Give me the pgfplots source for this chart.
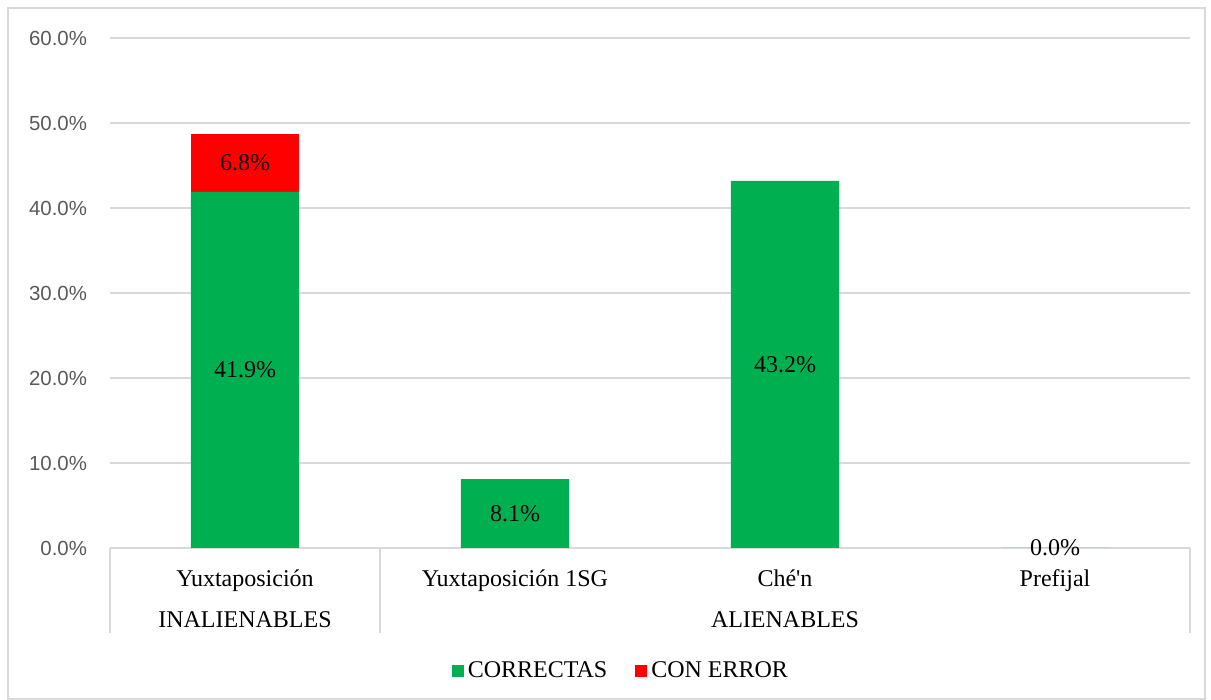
\documentclass[border=0pt]{standalone}
\usepackage{pgfplots}
\pgfplotsset{compat=1.18}
\usepackage{pgfplotstable}
\usepackage{fontspec}
\setmainfont{Liberation Serif}
\newfontfamily\arialf{Liberation Sans}
\definecolor{cgreen}{HTML}{00B050}
\definecolor{cred}{HTML}{FF0000}
\definecolor{gridc}{HTML}{D9D9D9}
\definecolor{tickc}{HTML}{595959}

\pgfplotstableread{
x c
0 41.9
1 8.1
2 43.2
3 0.0
}\correctas
\pgfplotstableread{
x e
0 6.8
}\conerror

\newcommand{\lblfont}{\fontsize{12}{14}\selectfont}

\begin{document}
\begin{tikzpicture}[x=1pt,y=1pt]
\useasboundingbox (-55,-76) rectangle (550.5,274);
\draw[gridc, line width=0.6pt] (-51,-75.5) rectangle (547.5,270);
\begin{axis}[
  at={(0,0)}, anchor=south west,
  scale only axis, width=540pt, height=255pt,
  ymin=0, ymax=60, xmin=-0.5, xmax=3.5,
  ytick={0,10,...,60},
  ymajorgrids, grid style={gridc, line width=0.6pt},
  axis x line*=bottom, axis y line*=left,
  x axis line style={gridc, line width=0.6pt, -},
  y axis line style={draw=none},
  major tick length=0pt,
  xtick={0,1,2,3},
  xticklabels={Yuxtaposición, Yuxtaposición 1SG, Ché\textquotesingle n, Prefijal},
  xticklabel style={font=\lblfont, anchor=center, text height=8.5pt, text depth=2.6pt, yshift=-16.5pt},
  /pgf/number format/assume math mode=true,
  yticklabel={\pgfmathprintnumber[fixed,fixed zerofill,precision=1]{\tick}\%},
  yticklabel style={font=\arialf\fontsize{10.2}{12}\selectfont, text=tickc, anchor=east, xshift=-8pt},
  ybar stacked, bar width=54pt,
  stacked ignores zero=false,
  clip=false,
  legend columns=2,
  legend style={at={(0.474,-0.241)}, anchor=center, draw=none, font=\lblfont,
    /tikz/every even column/.append style={column sep=12pt}},
]
\addplot[fill=cgreen, draw=none,
  nodes near coords={\pgfmathprintnumber[fixed,fixed zerofill,precision=1]{\pgfplotspointmeta}\%},
  every node near coord/.append style={anchor=center, font=\lblfont, text=black},
  legend image code/.code={\fill[cgreen] (0pt,-2.8pt) rectangle (6pt,3.2pt);}
] table[x=x, y=c, meta=c] {\correctas};
\addlegendentry{CORRECTAS}
\addplot[fill=cred, draw=none,
  nodes near coords={\pgfmathprintnumber[fixed,fixed zerofill,precision=1]{\pgfplotspointmeta}\%},
  every node near coord/.append style={anchor=center, font=\lblfont, text=black},
  legend image code/.code={\fill[cred] (0pt,-2.8pt) rectangle (6pt,3.2pt);}
] table[x=x, y=e, meta=e] {\conerror};
\addlegendentry{CON ERROR}
\draw[gridc, line width=0.6pt] (axis cs:-0.5,0) -- ([yshift=-42.5pt]axis cs:-0.5,0);
\draw[gridc, line width=0.6pt] (axis cs:0.5,0) -- ([yshift=-42.5pt]axis cs:0.5,0);
\draw[gridc, line width=0.6pt] (axis cs:3.5,0) -- ([yshift=-42.5pt]axis cs:3.5,0);
\node[font=\lblfont] at (axis cs:0,0) [yshift=-36pt] {INALIENABLES};
\node[font=\lblfont] at (axis cs:2,0) [yshift=-36pt] {ALIENABLES};
\end{axis}
\end{tikzpicture}
\end{document}
